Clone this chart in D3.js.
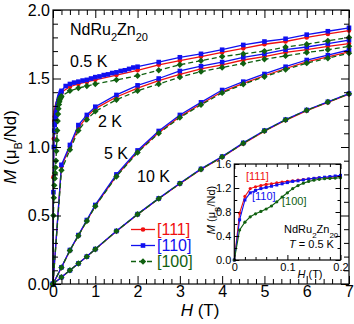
<!DOCTYPE html>
<html><head><meta charset="utf-8">
<script src="https://cdn.jsdelivr.net/npm/d3@7"></script>
<style>body{margin:0;background:#fff;}svg{display:block;font-family:"Liberation Sans",Arial,Helvetica,sans-serif;}</style>
</head><body><div id="chart"></div>
<script>
// ---------- DATA ----------
// low-field 0.5 K data (inset)
const lowH   = [0,0.01,0.02,0.03,0.04,0.05,0.06,0.07,0.08,0.09,0.10,0.11,0.12,0.13,0.14,0.15,0.16,0.17,0.18,0.19,0.20];
const low111 = [0,0.78,1.06,1.19,1.22,1.24,1.26,1.27,1.285,1.30,1.31,1.32,1.33,1.34,1.35,1.36,1.37,1.375,1.38,1.39,1.40];
const low110 = [0,0.67,1.00,1.12,1.16,1.19,1.21,1.23,1.25,1.27,1.29,1.31,1.32,1.335,1.35,1.36,1.37,1.38,1.39,1.40,1.41];
const low100 = [0,0.50,0.63,0.72,0.77,0.81,0.85,0.90,0.97,1.05,1.12,1.19,1.24,1.28,1.31,1.33,1.345,1.355,1.36,1.365,1.37];

// high-field data
const hH     = [0.4,0.6,0.8,1.0,1.5,2.0,2.5,3.0,3.5,4.0,4.5,5.0,5.5,6.0,6.5,7.0];
const hH110  = [0.3,0.4,0.5,0.6,0.7,0.8,0.9,1.0,1.1,1.2,1.3,1.4,1.5,1.6,1.7,1.8,1.9,2.0,2.5,3.0,3.5,4.0,4.5,5.0,5.5,6.0,6.5,7.0];
const m05_111 = [1.44,1.46,1.475,1.49,1.525,1.56,1.60,1.63,1.66,1.69,1.72,1.75,1.77,1.80,1.825,1.85];
const m05_110 = [1.445,1.46,1.47,1.477,1.485,1.49,1.50,1.51,1.515,1.525,1.53,1.54,1.545,1.555,1.56,1.57,1.58,1.586,1.62,1.655,1.68,1.71,1.745,1.77,1.79,1.82,1.845,1.87];
const m05_100 = [1.41,1.43,1.445,1.46,1.49,1.52,1.56,1.60,1.63,1.66,1.68,1.70,1.73,1.75,1.775,1.80];

const fH = [0,0.2,0.4,0.6,0.8,1.0,1.5,2.0,2.5,3.0,3.5,4.0,4.5,5.0,5.5,6.0,6.5,7.0];
const m2_111 = [0,0.86,1.00,1.14,1.22,1.28,1.365,1.43,1.485,1.53,1.57,1.60,1.635,1.66,1.69,1.71,1.735,1.755];
const m2_110 = [0,0.87,1.015,1.16,1.234,1.294,1.38,1.45,1.50,1.555,1.59,1.62,1.655,1.68,1.71,1.73,1.755,1.78];
const m2_100 = [0,0.83,0.98,1.12,1.20,1.26,1.345,1.41,1.46,1.51,1.55,1.58,1.61,1.64,1.665,1.69,1.71,1.735];
const m5_111 = [0,0.12,0.245,0.353,0.462,0.57,0.79,0.965,1.105,1.222,1.314,1.403,1.465,1.52,1.573,1.622,1.657,1.695];
const m5_110 = [0,0.122,0.248,0.357,0.467,0.577,0.80,0.975,1.117,1.234,1.326,1.416,1.477,1.533,1.586,1.635,1.67,1.708];
const m5_100 = [0,0.12,0.245,0.352,0.46,0.568,0.785,0.96,1.10,1.215,1.308,1.395,1.458,1.513,1.565,1.612,1.648,1.685];
const m10_111 = [0,0.05,0.10,0.15,0.20,0.253,0.385,0.508,0.622,0.732,0.836,0.926,1.025,1.115,1.195,1.265,1.325,1.385];
const m10_110 = [0,0.05,0.10,0.15,0.20,0.255,0.387,0.51,0.625,0.735,0.84,0.93,1.03,1.12,1.20,1.27,1.33,1.39];
const m10_100 = [0,0.05,0.10,0.15,0.20,0.254,0.386,0.509,0.623,0.733,0.838,0.928,1.027,1.118,1.198,1.268,1.328,1.388];

const directions = ["[111]","[110]","[100]"];
const colors = ["#f01010","#1010f0","#106010"];
const tempLabels = ["0.5 K","2 K","5 K","10 K"];
const xTicks = [0,1,2,3,4,5,6,7];
const yTicks = [0.0,0.5,1.0,1.5,2.0];
const insetXTicks = [0,0.1,0.2];
const insetYTicks = [0.0,0.4,0.8,1.2,1.6];

// ---------- BUILD ----------
const W=354,Hh=324;
const svg=d3.select("#chart").append("svg").attr("width",W).attr("height",Hh);
const x=d3.scaleLinear().domain([0,7]).range([53,349]);
const y=d3.scaleLinear().domain([0,2]).range([284,10]);

const zip=(a,b)=>a.map((v,i)=>[v,b[i]]);
const series=[
  // [dirIndex, points]
  [0, zip(lowH,low111).concat(zip(hH,m05_111))],
  [1, zip(lowH,low110).concat(zip(hH110,m05_110))],
  [2, zip(lowH,low100).concat(zip(hH,m05_100))],
  [0, zip(fH,m2_111)],[1, zip(fH,m2_110)],[2, zip(fH,m2_100)],
  [0, zip(fH,m5_111)],[1, zip(fH,m5_110)],[2, zip(fH,m5_100)],
  [0, zip(fH,m10_111)],[1, zip(fH,m10_110)],[2, zip(fH,m10_100)]
];

function drawMarker(g,dir,cx,cy,s){
  const c=colors[dir];
  if(dir===0) g.append("circle").attr("cx",cx).attr("cy",cy).attr("r",2.3*s).attr("fill",c);
  else if(dir===1) g.append("rect").attr("x",cx-2.3*s).attr("y",cy-2.3*s).attr("width",4.6*s).attr("height",4.6*s).attr("fill",c);
  else g.append("path").attr("d",`M${cx},${cy-3.2*s}L${cx+3.2*s},${cy}L${cx},${cy+3.2*s}L${cx-3.2*s},${cy}Z`).attr("fill",c);
}
function drawSeries(g,sx,sy,dir,pts,s,lw){
  const line=d3.line().x(d=>sx(d[0])).y(d=>sy(d[1]));
  g.append("path").datum(pts).attr("d",line).attr("fill","none").attr("stroke",colors[dir])
    .attr("stroke-width",lw).attr("stroke-dasharray",dir===2?"5,3":null);
  pts.forEach(p=>drawMarker(g,dir,sx(p[0]),sy(p[1]),s));
}

const plot=svg.append("g");
[0,1,2].forEach(d=>series.filter(s=>s[0]===d).forEach(s=>drawSeries(plot,x,y,s[0],s[1],1,1.3)));

// main axes
function frameAxes(g,sx,sy,xmaj,xmin,ymaj,ymin,L1,L2,fs,xfmt,yfmt,showLabels){
  const [x0,x1]=sx.range(),[y0,y1]=sy.range();
  const ax=g.append("g");
  const mk=(axisFn,scale,vals,len,tr,fmt,lab)=>{
    const a=axisFn(scale).tickValues(vals).tickSizeInner(-len).tickSizeOuter(0).tickPadding(3)
      .tickFormat(lab?fmt:()=>"");
    const gg=ax.append("g").attr("transform",tr).call(a);
    gg.select(".domain").remove();
    gg.selectAll("line").attr("stroke","#000").attr("stroke-width",1);
    gg.selectAll("text").attr("font-size",fs).attr("fill","#000").attr("font-family","Liberation Sans,Arial,sans-serif");
    return gg;
  };
  mk(d3.axisBottom,sx,xmin,L2,`translate(0,${y0})`,xfmt,false);
  mk(d3.axisBottom,sx,xmaj,L1,`translate(0,${y0})`,xfmt,showLabels);
  mk(d3.axisTop,sx,xmin,L2,`translate(0,${y1})`,xfmt,false);
  mk(d3.axisTop,sx,xmaj,L1,`translate(0,${y1})`,xfmt,false);
  mk(d3.axisLeft,sy,ymin,L2,`translate(${x0},0)`,yfmt,false);
  mk(d3.axisLeft,sy,ymaj,L1,`translate(${x0},0)`,yfmt,showLabels);
  mk(d3.axisRight,sy,ymin,L2,`translate(${x1},0)`,yfmt,false);
  mk(d3.axisRight,sy,ymaj,L1,`translate(${x1},0)`,yfmt,false);
  ax.append("rect").attr("x",x0).attr("y",y1).attr("width",x1-x0).attr("height",y0-y1)
    .attr("fill","none").attr("stroke","#000").attr("stroke-width",1.2);
  return ax;
}
const minorX=d3.range(0,36).map(i=>i*0.2).filter(v=>Math.abs(v-Math.round(v))>1e-6);
const minorY=d3.range(0,21).map(i=>i*0.1).filter(v=>Math.abs(v*2-Math.round(v*2))>1e-6);
const mainAx=frameAxes(svg,x,y,xTicks,minorX,yTicks,minorY,8,5,"16px",d3.format("d"),d3.format(".1f"),true);
mainAx.selectAll("text").filter(function(){return this.parentNode.parentNode && d3.select(this.parentNode.parentNode).attr("transform")==="translate(0,284)";}).attr("dy","0.62em");

// axis titles
svg.append("text").attr("x",200).attr("y",316).attr("text-anchor","middle").attr("font-size","17px")
  .html('<tspan font-style="italic">H</tspan> (T)');
svg.append("text").attr("transform","translate(16,147) rotate(-90)").attr("text-anchor","middle").attr("font-size","17px")
  .html('<tspan font-style="italic">M</tspan> (μ<tspan baseline-shift="sub" font-size="11px">B</tspan>/Nd)');

// annotations
svg.append("text").attr("x",70).attr("y",35).attr("font-size","16px")
  .html('NdRu<tspan baseline-shift="sub" font-size="11px">2</tspan>Zn<tspan baseline-shift="sub" font-size="11px">20</tspan>');
const tPos=[[70,67],[98,127],[104,159],[137,182]];
tempLabels.forEach((t,i)=>svg.append("text").attr("x",tPos[i][0]).attr("y",tPos[i][1]).attr("font-size","16px").text(t));

// legend
const leg=svg.append("g");
directions.forEach((d,i)=>{
  const yy=229.5+i*16;
  leg.append("line").attr("x1",131).attr("x2",155).attr("y1",yy).attr("y2",yy).attr("stroke",colors[i])
    .attr("stroke-width",1.3).attr("stroke-dasharray",i===2?"5,3":null);
  drawMarker(leg,i,143,yy,1);
  leg.append("text").attr("x",157).attr("y",yy+5.5).attr("font-size","16px").attr("fill",colors[i]).text(d);
});

// ---------- INSET ----------
const ix=d3.scaleLinear().domain([0,0.2]).range([234.3,340.5]);
const iy=d3.scaleLinear().domain([0,1.6]).range([260,164]);
const inset=svg.append("g");
inset.append("rect").attr("x",234.3).attr("y",164).attr("width",106.2).attr("height",96).attr("fill","#fff");
const ins=[[0,zip(lowH,low111)],[1,zip(lowH,low110)],[2,zip(lowH,low100)]];
ins.forEach(s=>{
  const line=d3.line().x(d=>ix(d[0])).y(d=>iy(d[1]));
  inset.append("path").datum(s[1]).attr("d",line).attr("fill","none").attr("stroke",colors[s[0]]).attr("stroke-width",1.1);
  s[1].forEach(p=>{
    if(s[0]===1) inset.append("rect").attr("x",ix(p[0])-1.5).attr("y",iy(p[1])-1.5).attr("width",3).attr("height",3).attr("fill",colors[1]);
    else inset.append("circle").attr("cx",ix(p[0])).attr("cy",iy(p[1])).attr("r",1.6).attr("fill",colors[s[0]]);
  });
});
const iminX=d3.range(0,11).map(i=>i*0.02).filter(v=>Math.abs(v*10-Math.round(v*10))>1e-6);
const iminY=[0.2,0.6,1.0,1.4];
const insAx=frameAxes(inset,ix,iy,insetXTicks,iminX,insetYTicks,iminY,5,3,"11px",v=>v===0?"0":d3.format(".1f")(v),d3.format(".1f"),true);
inset.append("text").attr("x",310).attr("y",278).attr("text-anchor","middle").attr("font-size","11px")
  .html('<tspan font-style="italic">H</tspan> (T)');
inset.append("text").attr("transform","translate(215,210) rotate(-90)").attr("text-anchor","middle").attr("font-size","11px")
  .html('<tspan font-style="italic">M</tspan> (μ<tspan baseline-shift="sub" font-size="8px">B</tspan>/Nd)');
inset.append("text").attr("x",284).attr("y",233).attr("font-size","11px")
  .html('NdRu<tspan baseline-shift="sub" font-size="8px">2</tspan>Zn<tspan baseline-shift="sub" font-size="8px">20</tspan>');
inset.append("text").attr("x",289).attr("y",248).attr("font-size","11px")
  .html('<tspan font-style="italic">T</tspan> = 0.5 K');
const ilab=[[246,180],[252,200],[282,205]];
directions.forEach((d,i)=>inset.append("text").attr("x",ilab[i][0]).attr("y",ilab[i][1]).attr("font-size","11px").attr("fill",colors[i]).text(d));
</script></body></html>
